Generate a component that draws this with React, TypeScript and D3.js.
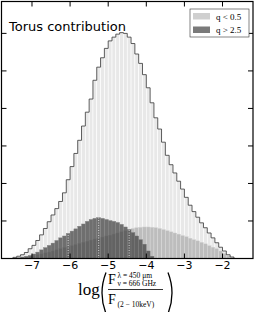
import React from 'react'
import * as d3 from 'd3'

// left edges of the 0.1 dex bins
const binLefts = [
  -7.5, -7.4, -7.3, -7.2, -7.1, -7.0, -6.9, -6.8, -6.7, -6.6,
  -6.5, -6.4, -6.3, -6.2, -6.1, -6.0, -5.9, -5.8, -5.7, -5.6,
  -5.5, -5.4, -5.3, -5.2, -5.1, -5.0, -4.9, -4.8, -4.7, -4.6,
  -4.5, -4.4, -4.3, -4.2, -4.1, -4.0, -3.9, -3.8, -3.7, -3.6,
  -3.5, -3.4, -3.3, -3.2, -3.1, -3.0, -2.9, -2.8, -2.7, -2.6,
  -2.5, -2.4, -2.3, -2.2, -2.1, -2.0, -1.9, -1.8,
]
const binWidth = 0.1

const totalCounts = [
  0.3, 0.6, 1.0, 1.6, 2.6, 3.5, 4.8, 6.3, 8.0, 9.8,
  11.6, 13.3, 15.2, 17.5, 21.0, 24.5, 28.0, 31.5, 35.3, 39.0,
  42.5, 47.5, 51.0, 53.5, 56.0, 58.0, 59.0, 59.8, 60.2, 60.0,
  59.0, 57.3, 54.5, 52.0, 49.0, 45.5, 41.5, 37.5, 34.5, 31.0,
  27.5, 25.0, 22.8, 20.6, 18.5, 16.3, 14.2, 12.5, 11.0, 9.5,
  8.2, 6.8, 5.5, 4.2, 3.0, 2.0, 1.0, 0.4,
]

// q < 0.5
const lowQCounts = [
  0, 0.1, 0.2, 0.4, 0.6, 0.8, 1.0, 1.2, 1.5, 1.7,
  2.0, 2.3, 2.6, 2.9, 3.1, 3.4, 3.7, 4.0, 4.3, 4.6,
  4.9, 5.2, 5.4, 5.7, 6.0, 6.2, 6.5, 6.8, 7.1, 7.4,
  7.7, 8.0, 8.2, 8.3, 8.4, 8.4, 8.3, 8.2, 8.0, 7.7,
  7.4, 7.1, 6.8, 6.5, 6.1, 5.8, 5.4, 5.0, 4.7, 4.3,
  3.9, 3.4, 3.0, 2.6, 2.0, 1.3, 0.7, 0.2,
]

// q > 2.5
const highQCounts = [
  0, 0.2, 0.4, 0.6, 0.8, 1.2, 1.7, 2.3, 2.9, 3.5,
  4.1, 4.8, 5.5, 6.0, 6.7, 7.3, 7.9, 8.6, 9.2, 9.9,
  10.4, 10.7, 10.9, 10.7, 10.4, 10.1, 9.9, 9.6, 9.1, 8.4,
  7.7, 6.9, 6.0, 5.0, 3.8, 2.0, 0.6, 0, 0, 0,
  0, 0, 0, 0, 0, 0, 0, 0, 0, 0,
  0, 0, 0, 0, 0, 0, 0, 0,
]

// bins where the dotted quartile markers of q > 2.5 sit
const highQMarkerBins = [14, 22, 30]

const xTicks = [-7, -6, -5, -4, -3, -2]
const yTicks = [10, 20, 30, 40, 50, 60]

const W = 258
const H = 312
const left = 1.5, right = 253, top = 1.5, bottom = 258.5

export default function App() {
  const x = d3.scaleLinear().domain([-7.8, -1.2]).range([left, right])
  const y = d3.scaleLinear().domain([0, 68.5]).range([bottom, top])

  const bars = (counts: number[]) =>
    binLefts.map((b, i) => ({ x0: x(b), x1: x(b + binWidth), y: y(counts[i]), v: counts[i] }))
      .filter(d => d.v > 0)

  // step outline of the total
  const stepPts: [number, number][] = []
  stepPts.push([x(binLefts[0]), y(0)])
  binLefts.forEach((b, i) => {
    stepPts.push([x(b), y(totalCounts[i])])
    stepPts.push([x(b + binWidth), y(totalCounts[i])])
  })
  stepPts.push([x(binLefts[binLefts.length - 1] + binWidth), y(0)])
  const stepLine = d3.line()(stepPts) || ''

  const tickLen = 5

  return (
    <svg width={W} height={H} style={{ position: 'absolute', left: 0, top: 0, background: '#fff' }}>
      <defs>
        <clipPath id="plotClip">
          <rect x={left} y={top} width={right - left} height={bottom - top} />
        </clipPath>
      </defs>
      <g clipPath="url(#plotClip)">
        {bars(totalCounts).map((d, i) => (
          <rect key={'t' + i} x={d.x0} y={d.y} width={d.x1 - d.x0} height={bottom - d.y}
            fill="#e8e8e8" stroke="#fff" strokeWidth={0.6} />
        ))}
        <g opacity={0.55}>
          {bars(lowQCounts).map((d, i) => (
            <rect key={'l' + i} x={d.x0} y={d.y} width={d.x1 - d.x0} height={bottom - d.y}
              fill="#9a9a9a" stroke="#bbb" strokeWidth={0.4} />
          ))}
        </g>
        <g opacity={0.72}>
          {bars(highQCounts).map((d, i) => (
            <rect key={'h' + i} x={d.x0} y={d.y} width={d.x1 - d.x0} height={bottom - d.y}
              fill="#404040" stroke="#555" strokeWidth={0.4} />
          ))}
        </g>
        {highQMarkerBins.map(i => {
          const cx = x(binLefts[i] + binWidth / 2)
          return (
            <line key={'m' + i} x1={cx} x2={cx} y1={bottom} y2={y(highQCounts[i])}
              stroke="#e0e0e0" strokeWidth={0.9} strokeDasharray="1,1.5" />
          )
        })}
        <path d={stepLine} fill="none" stroke="#333" strokeWidth={0.8} />
      </g>

      {/* ticks, inward on all sides */}
      {xTicks.map(t => (
        <g key={'xt' + t}>
          <line x1={x(t)} x2={x(t)} y1={bottom} y2={bottom - tickLen} stroke="#000" strokeWidth={1} />
          <line x1={x(t)} x2={x(t)} y1={top} y2={top + tickLen} stroke="#000" strokeWidth={1} />
          <text x={x(t)} y={269} textAnchor="middle" fontFamily="DejaVu Sans" fontSize={11} fill="#000">
            {'\u2212' + Math.abs(t)}
          </text>
        </g>
      ))}
      {yTicks.map(t => (
        <g key={'yt' + t}>
          <line x1={left} x2={left + tickLen} y1={y(t)} y2={y(t)} stroke="#000" strokeWidth={1} />
          <line x1={right} x2={right - tickLen} y1={y(t)} y2={y(t)} stroke="#000" strokeWidth={1} />
        </g>
      ))}
      <rect x={left} y={top} width={right - left} height={bottom - top} fill="none" stroke="#000" strokeWidth={1.2} />

      <text x={9} y={31} fontFamily="DejaVu Sans" fontSize={13} fill="#000">Torus contribution</text>

      {/* legend */}
      <g>
        <rect x={190} y={9} width={59} height={28} fill="#fff" stroke="#333" strokeWidth={0.6} />
        <rect x={193} y={13} width={17} height={6.5} fill="#cfcfcf" />
        <rect x={193} y={26.5} width={17} height={6.5} fill="#7a7a7a" />
        <text x={216} y={19.5} fontFamily="Liberation Serif" fontSize={9} fill="#000">q &lt; 0.5</text>
        <text x={216} y={33} fontFamily="Liberation Serif" fontSize={9} fill="#000">q &gt; 2.5</text>
      </g>

      {/* x axis label */}
      <g fontFamily="Liberation Serif" fill="#000">
        <text x={78} y={295} fontSize={17}>log</text>
        <path d="M106,272.5 Q98,293 106,313.5" fill="none" stroke="#000" strokeWidth={1.3} />
        <path d="M168,272.5 Q176,293 168,313.5" fill="none" stroke="#000" strokeWidth={1.3} />
        <text x={108} y={284} fontSize={14}>F</text>
        <text x={117.5} y={277.5} fontSize={7.5}>λ = 450 μm</text>
        <text x={117.5} y={285.5} fontSize={7.5}>ν = 666 GHz</text>
        <line x1={108} x2={163} y1={289.5} y2={289.5} stroke="#000" strokeWidth={0.8} />
        <text x={108} y={303.5} fontSize={14}>F</text>
        <text x={117.5} y={306.5} fontSize={7.5}>(2 − 10keV)</text>
      </g>
    </svg>
  )
}
